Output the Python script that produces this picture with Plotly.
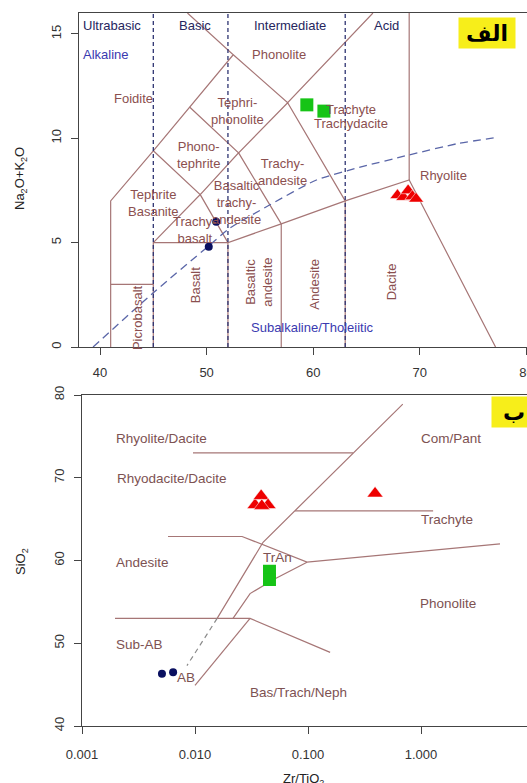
import math
import plotly.graph_objects as go

W, H = 527, 783
FONT = "Liberation Sans, Arial, sans-serif"
LINE_COL = "#a67676"
TXT_COL = "#8b4f4f"
NAVY = "#2e3472"
BLUE = "#3a3ab0"

# ---------------- TAS diagram (Na2O+K2O vs SiO2) ----------------
tas_bounds = [
    [(41, 0), (41, 7), (45, 9.4), (48.4, 11.5), (52.5, 14), (48.2, 16)],
    [(41, 3), (45, 3)],
    [(45, 0), (45, 5), (52, 5)],
    [(52, 0), (52, 5), (57, 5.9), (63, 7), (69, 8), (77.1, 0)],
    [(45, 5), (49.4, 7.3), (52, 5)],
    [(45, 9.4), (49.4, 7.3), (53, 9.3), (57, 5.9)],
    [(48.4, 11.5), (53, 9.3), (57.6, 11.7), (63, 7)],
    [(52.5, 14), (57.6, 11.7), (65.6, 16)],
    [(57, 0), (57, 5.9)],
    [(63, 0), (63, 7)],
    [(69, 8), (69, 16)],
]
silica_dividers = [45, 52, 63]
alk_curve_sio2 = [39.35, 45.0, 50.1, 52.2, 55.9, 60.3, 64.3, 69.0, 73.6, 77.4]
alk_curve_alk = [0.0, 2.6, 4.8, 5.7, 6.8, 8.0, 8.6, 9.2, 9.75, 10.05]

tas_field_names = ["Foidite", "Phonolite", "Tephri-<br>phonolite", "Phono-<br>tephrite",
                   "Trachyte", "Trachydacite", "Trachy-<br>andesite",
                   "Basaltic<br>trachy-<br>andesite", "Tephrite<br>Basanite",
                   "Trachy-<br>basalt", "Rhyolite"]
tas_field_x = [43.1, 56.8, 52.9, 49.2, 63.5, 63.5, 57.1, 52.8, 45.0, 48.9, 72.2]
tas_field_y = [11.9, 14.0, 11.3, 9.2, 11.4, 10.7, 8.4, 6.9, 6.9, 5.6, 8.2]

tas_vert_names = ["Picrobasalt", "Basalt", "Basaltic<br>andesite", "Andesite", "Dacite"]
tas_vert_x = [43.5, 48.9, 54.95, 60.1, 67.3]
tas_vert_y = [1.4, 3.0, 3.1, 3.0, 3.1]

tas_group_names = ["Ultrabasic", "Basic", "Intermediate", "Acid"]
tas_group_x = [38.2, 48.9, 57.8, 66.9]
tas_group_y = 15.4

tas_green_sio2 = [59.4, 61.0]
tas_green_alk = [11.6, 11.3]
tas_navy_sio2 = [50.9, 50.2]
tas_navy_alk = [6.0, 4.8]
tas_red_sio2 = [67.9, 68.45, 68.9, 69.3, 69.65]
tas_red_alk = [7.27, 7.18, 7.5, 7.22, 7.1]

# ---------------- Winchester & Floyd (SiO2 vs Zr/TiO2) ----------------
wf_bounds = [
    [(0.0096, 73.0), (0.25, 73.0)],
    [(0.69, 78.9), (0.040, 62.2), (0.0157, 53.0)],
    [(0.00577, 62.9), (0.0261, 62.9), (0.098, 59.8), (5.0, 62.0)],
    [(0.0767, 66.0), (1.28, 66.0)],
    [(0.098, 59.8), (0.0511, 57.8), (0.0307, 56.0), (0.0217, 53.0)],
    [(0.00196, 53.0), (0.0307, 53.0), (0.157, 48.9)],
    [(0.0307, 53.0), (0.0100, 44.9)],
]
wf_dashed = [(0.0157, 53.0), (0.00849, 47.3)]

wf_field_names = ["Rhyolite/Dacite", "Rhyodacite/Dacite", "Andesite", "Sub-AB", "AB",
                  "Bas/Trach/Neph", "Phonolite", "Trachyte", "Com/Pant", "TrAn"]
wf_field_x = [0.0051, 0.00625, 0.0034, 0.0032, 0.0083, 0.0817, 1.73, 1.70, 1.84, 0.0532]
wf_field_y = [74.8, 69.9, 59.8, 49.8, 45.9, 44.0, 54.8, 64.9, 74.8, 60.4]

wf_green_zr = [0.0456, 0.0456]
wf_green_si = [58.7, 57.7]
wf_navy_zr = [0.0051, 0.0064]
wf_navy_si = [46.3, 46.5]
wf_red_zr = [0.034, 0.0385, 0.0443, 0.039, 0.392]
wf_red_si = [66.7, 67.8, 66.7, 66.6, 68.1]

x_ticks_tas = [40, 50, 60, 70, 80]
y_ticks_tas = [0, 5, 10, 15]
x_ticks_wf = [0.001, 0.01, 0.1, 1]
x_ticktext_wf = ["0.001", "0.010", "0.100", "1.000"]
y_ticks_wf = [40, 50, 60, 70, 80]


def chain(polys):
    xs, ys = [], []
    for poly in polys:
        for px, py in poly:
            xs.append(px)
            ys.append(py)
        xs.append(None)
        ys.append(None)
    return xs, ys


fig = go.Figure()
tri_edge = dict(color="white", width=0.5)

# TAS field boundaries
bx, by = chain(tas_bounds)
fig.add_trace(go.Scatter(x=bx, y=by, mode="lines", line=dict(color=LINE_COL, width=1.2),
                         xaxis="x", yaxis="y", hoverinfo="skip"))
# silica class dividers
dx, dy = chain([[(s, 0), (s, 16)] for s in silica_dividers])
fig.add_trace(go.Scatter(x=dx, y=dy, mode="lines", line=dict(color=NAVY, width=1.3, dash="4px,3px"),
                         xaxis="x", yaxis="y", hoverinfo="skip"))
# alkaline / subalkaline divide
fig.add_trace(go.Scatter(x=alk_curve_sio2, y=alk_curve_alk, mode="lines",
                         line=dict(color="#5a66a8", width=1.3, dash="8px,5px", shape="spline",
                                   smoothing=0.6),
                         xaxis="x", yaxis="y", hoverinfo="skip"))
# TAS samples
fig.add_trace(go.Scatter(x=tas_green_sio2, y=tas_green_alk, mode="markers",
                         marker=dict(symbol="square", size=13, color="#16c416", line=dict(width=0)),
                         xaxis="x", yaxis="y"))
fig.add_trace(go.Scatter(x=tas_navy_sio2, y=tas_navy_alk, mode="markers",
                         marker=dict(symbol="circle", size=8, color="#0a1060", line=dict(width=0)),
                         xaxis="x", yaxis="y"))
fig.add_trace(go.Scatter(x=tas_red_sio2, y=tas_red_alk, mode="markers",
                         marker=dict(symbol="triangle-up", size=13, color="#ee0000", line=tri_edge),
                         xaxis="x", yaxis="y"))

# Winchester & Floyd boundaries
wx, wy = chain(wf_bounds)
fig.add_trace(go.Scatter(x=wx, y=wy, mode="lines", line=dict(color=LINE_COL, width=1.2),
                         xaxis="x2", yaxis="y2", hoverinfo="skip"))
fig.add_trace(go.Scatter(x=[p[0] for p in wf_dashed], y=[p[1] for p in wf_dashed], mode="lines",
                         line=dict(color="#8a8a8a", width=1.2, dash="5px,4px"),
                         xaxis="x2", yaxis="y2", hoverinfo="skip"))
fig.add_trace(go.Scatter(x=wf_green_zr, y=wf_green_si, mode="markers",
                         marker=dict(symbol="square", size=13, color="#16c416", line=dict(width=0)),
                         xaxis="x2", yaxis="y2"))
fig.add_trace(go.Scatter(x=wf_navy_zr, y=wf_navy_si, mode="markers",
                         marker=dict(symbol="circle", size=8, color="#0a1060", line=dict(width=0)),
                         xaxis="x2", yaxis="y2"))
fig.add_trace(go.Scatter(x=wf_red_zr, y=wf_red_si, mode="markers",
                         marker=dict(symbol="triangle-up", size=14, color="#ee0000", line=tri_edge),
                         xaxis="x2", yaxis="y2"))

ann = []
for name, x, y in zip(tas_field_names, tas_field_x, tas_field_y):
    ann.append(dict(x=x, y=y, xref="x", yref="y", text=name, showarrow=False,
                    font=dict(family=FONT, size=13, color=TXT_COL)))
for name, x, y in zip(tas_vert_names, tas_vert_x, tas_vert_y):
    ann.append(dict(x=x, y=y, xref="x", yref="y", text=name, showarrow=False, textangle=-90,
                    font=dict(family=FONT, size=13, color=TXT_COL)))
for name, x in zip(tas_group_names, tas_group_x):
    ann.append(dict(x=x, y=tas_group_y, xref="x", yref="y", text=name, showarrow=False,
                    xanchor="left" if name == "Ultrabasic" else "center",
                    font=dict(family=FONT, size=13, color="#26265e")))
ann.append(dict(x=38.2, y=14.0, xref="x", yref="y", text="Alkaline", showarrow=False,
                xanchor="left", font=dict(family=FONT, size=13, color=BLUE)))
ann.append(dict(x=59.9, y=0.95, xref="x", yref="y", text="Subalkaline/Tholeiitic", showarrow=False,
                font=dict(family=FONT, size=13, color=BLUE)))
# annotation positions on a log axis are given as log10 of the value
for name, x, y in zip(wf_field_names, wf_field_x, wf_field_y):
    ann.append(dict(x=math.log10(x), y=y, xref="x2", yref="y2", text=name, showarrow=False,
                    font=dict(family=FONT, size=13.5, color="#7d5252")))


def paper_text(px, py, text, **kw):
    return dict(x=px / W, y=1 - py / H, xref="paper", yref="paper", text=text,
                showarrow=False, xanchor="center", yanchor="middle", **kw)


# axis titles
ann.append(paper_text(20, 179, "Na<sub>2</sub>O+K<sub>2</sub>O", textangle=-90,
                      font=dict(family=FONT, size=13, color="#222")))
ann.append(paper_text(21, 562, "SiO<sub>2</sub>", textangle=-90,
                      font=dict(family=FONT, size=13, color="#222")))
ann.append(paper_text(303, 779, "Zr/TiO<sub>2</sub>",
                      font=dict(family=FONT, size=13, color="#222")))

# panel tags
ann.append(paper_text(487, 33, "<b>الف</b>", width=54, height=28, bgcolor="#f7ee1a", borderpad=1,
                      font=dict(family="DejaVu Sans", size=22, color="#000")))
ann.append(paper_text(514, 412, "<b>ب</b>", width=42, height=28, bgcolor="#f7ee1a", borderpad=1,
                      font=dict(family="DejaVu Sans", size=22, color="#000")))

axis_common = dict(showgrid=False, zeroline=False, showline=True, linecolor="#444", linewidth=1.2,
                   ticks="outside", ticklen=7, tickcolor="#444", automargin=False,
                   ticklabeloverflow="allow",
                   tickfont=dict(family=FONT, size=13, color="#333"))

fig.update_layout(
    width=W, height=H, margin=dict(l=0, r=0, t=0, b=0, autoexpand=False),
    paper_bgcolor="white", plot_bgcolor="white", showlegend=False,
    annotations=ann,
    xaxis=dict(domain=[79 / W, 1], range=[38.03, 80.05], tickvals=x_ticks_tas, anchor="y",
               mirror=True, ticklabelstandoff=6, **axis_common),
    yaxis=dict(domain=[1 - 347 / H, 1 - 13 / H], range=[0, 16], tickvals=y_ticks_tas, anchor="x",
               tickangle=-90, ticklabelstandoff=5, **axis_common),
    xaxis2=dict(domain=[82 / W, 1], type="log", range=[-3, 0.938], tickvals=x_ticks_wf,
                ticktext=x_ticktext_wf, anchor="y2", mirror=True, ticklabelstandoff=9, **axis_common),
    yaxis2=dict(domain=[1 - 726 / H, 1 - 395 / H], range=[40, 80], tickvals=y_ticks_wf, anchor="x2",
                tickangle=-90, ticklabelstandoff=5, **axis_common),
)

fig.write_html("out.html")
